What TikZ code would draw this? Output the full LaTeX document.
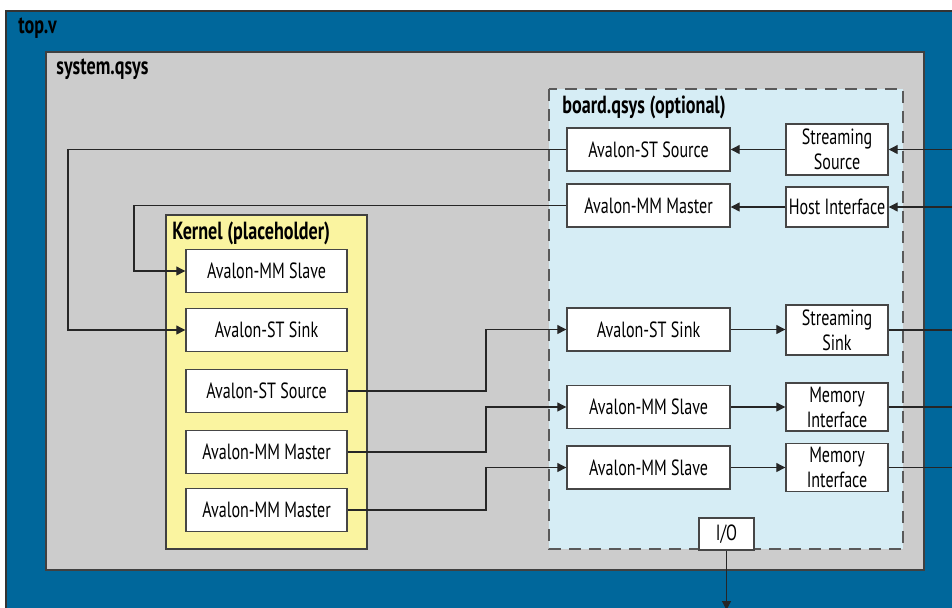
\documentclass[tikz,border=0pt]{standalone}
\usepackage{fontspec}
\setmainfont{PT Sans}[FakeStretch=0.73]
\usetikzlibrary{arrows.meta, positioning, calc}
\definecolor{topblue}{RGB}{0, 103, 155}
\definecolor{sysgray}{RGB}{204, 204, 204}
\definecolor{boardblue}{RGB}{214, 237, 245}
\definecolor{kernyellow}{RGB}{250, 244, 160}
\definecolor{edgegray}{RGB}{70, 70, 70}

\tikzset{
  blk/.style={draw=edgegray, fill=white, line width=0.7pt, align=center, inner sep=1pt},
  kblk/.style={blk, minimum width=80.5pt, minimum height=21.5pt},
  bblk/.style={blk, minimum width=81.5pt, minimum height=21.5pt},
  iblk/.style={blk, minimum width=51pt},
  title/.style={font=\fontsize{12.4}{14}\selectfont\bfseries, anchor=west, inner sep=0pt},
  conn/.style={draw=black!85, line width=0.6pt},
  arr/.style={conn, -{Triangle[length=4.5pt, width=4.5pt]}}
}

\begin{document}
\begin{tikzpicture}[x=0.5pt, y=-0.5pt, font=\fontsize{11}{12.5}\selectfont]
  \useasboundingbox (0,0) rectangle (952,607);
  \clip (0,0) rectangle (952,607);

  % Containers
  \draw[fill=topblue, draw=black!80, line width=0.6pt] (6,11) rectangle (970,620);
  \node[title] (toplbl) at (18,28) {top.v};
  \draw[fill=sysgray, draw=black!75, line width=0.6pt] (46,52) rectangle (924,570);
  \node[title] (syslbl) at (56,69) {system.qsys};
  \draw[fill=boardblue, draw=black!65, line width=0.7pt, dash pattern=on 6pt off 4pt] (549,89) rectangle (903,549);
  \node[title] (boardlbl) at (562,107) {board.qsys (optional)};
  \draw[fill=kernyellow, draw=black!75, line width=0.6pt] (166,215) rectangle (367,549);
  \node[title] (kernlbl) at (172,233) {Kernel (placeholder)};

  % Kernel interfaces
  \node[kblk] (kMMslave)   at (266.5,271) {Avalon-MM Slave};
  \node[kblk] (kSTsink)    at (266.5,330) {Avalon-ST Sink};
  \node[kblk] (kSTsrc)     at (266.5,391) {Avalon-ST Source};
  \node[kblk] (kMMmaster)  at (266.5,452) {Avalon-MM Master};
  \node[kblk] (kMMmasterB) at (266.5,510) {Avalon-MM Master};

  % Board interfaces
  \node[bblk] (bSTsrc)    at (648.5,149.5) {Avalon-ST Source};
  \node[bblk] (bMMmaster) at (648.5,205.5) {Avalon-MM Master};
  \node[bblk] (bSTsink)   at (648.5,329.5) {Avalon-ST Sink};
  \node[bblk] (bMMslave)  at (648.5,407) {Avalon-MM Slave};
  \node[bblk] (bMMslaveB) at (648.5,467.5) {Avalon-MM Slave};

  \node[iblk, minimum height=25.5pt] (strSrc)  at (837,149.5) {Streaming\\Source};
  \node[iblk, minimum height=20pt]   (hostIf)  at (837,207) {Host Interface};
  \node[iblk, minimum height=25pt]   (strSink) at (837,330) {Streaming\\Sink};
  \node[iblk, minimum height=24pt]   (memIf)   at (837,407) {Memory\\Interface};
  \node[iblk, minimum height=24pt]   (memIfB)  at (837,467.5) {Memory\\Interface};
  \node[blk, minimum width=27.5pt, minimum height=16pt] (io) at (726.5,534) {I/O};

  % Bend columns and free ends
  \coordinate (stloop) at (68,0);
  \coordinate (mmloop) at (134,0);
  \coordinate (jogx)   at (486,0);
  \coordinate (redge)  at (960,0);
  \coordinate (bedge)  at (0,610);

  % Board to kernel
  \draw[arr] (bSTsrc.west) -- (bSTsrc.west -| stloop) |- (kSTsink.west);
  \draw[arr] (bMMmaster.west) -- (bMMmaster.west -| mmloop) |- (kMMslave.west);

  % Kernel to board
  \draw[arr] (kSTsrc.east) -- (kSTsrc.east -| jogx) |- (bSTsink.west);
  \draw[arr] (kMMmaster.east) -- (kMMmaster.east -| jogx) |- (bMMslave.west);
  \draw[arr] (kMMmasterB.east) -- (kMMmasterB.east -| jogx) |- (bMMslaveB.west);

  % Inside board
  \draw[arr] (strSrc.west) -- (bSTsrc.east);
  \draw[arr] (hostIf.west) -- (hostIf.west -| bMMmaster.east);
  \draw[arr] (bSTsink.east) -- (bSTsink.east -| strSink.west);
  \draw[arr] (bMMslave.east) -- (memIf.west);
  \draw[arr] (bMMslaveB.east) -- (memIfB.west);

  % Outside connections
  \draw[arr] (redge |- strSrc.east) -- (strSrc.east);
  \draw[arr] (redge |- hostIf.east) -- (hostIf.east);
  \draw[conn] (strSink.east) -- (redge |- strSink.east);
  \draw[conn] (memIf.east) -- (redge |- memIf.east);
  \draw[conn] (memIfB.east) -- (redge |- memIfB.east);
  \draw[arr] (io.south) -- (io.south |- bedge);
\end{tikzpicture}
\end{document}
